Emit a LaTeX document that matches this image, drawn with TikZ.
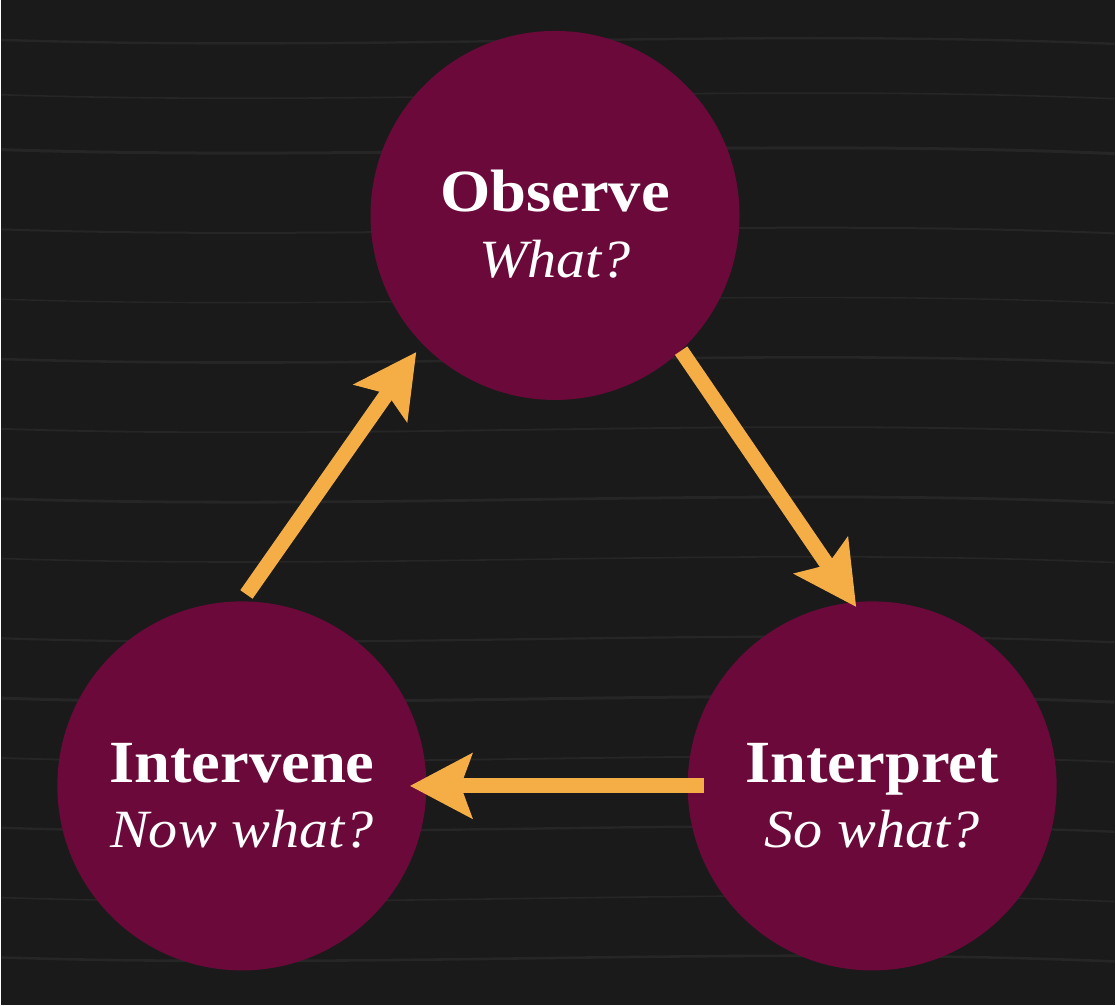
\documentclass[tikz,border=0pt]{standalone}
\usepackage{fontspec}
\setmainfont[FakeStretch=1.08]{Liberation Serif}
\usepackage{tikz}
\usetikzlibrary{positioning,arrows.meta}

\definecolor{woodbg}{RGB}{26,26,26}
\definecolor{woodgrain}{RGB}{38,38,38}
\definecolor{maroon}{RGB}{107,10,58}
\definecolor{amber}{RGB}{245,174,69}

\newcommand{\stagehead}[1]{{\bfseries\fontsize{30}{33}\selectfont\rule{0pt}{29.5pt}#1}}

\begin{document}
\begin{tikzpicture}[
    x=0.5pt, y=-0.5pt,
    every node/.style={align=center},
    stage/.style={circle, fill=maroon, minimum size=185pt, inner sep=0pt, text=white,
        font=\fontsize{27}{33}\selectfont},
    arrow/.style={draw=amber, line width=7.5pt,
        -{Stealth[length=31pt, width=32pt, inset=5.5pt]}}
]
% Background board
\fill[woodbg] (0,0) rectangle (1116,1008);
\foreach \y/\w in {40/1.2,95/0.8,150/1.5,230/1,300/0.7,360/1.3,430/0.9,500/1.4,560/0.8,640/1.1,700/1.5,760/0.9,830/1.2,900/0.8,960/1.3}
    \draw[woodgrain, line width=\w pt] (0,\y) .. controls (370,\y+12) and (740,\y-12) .. (1116,\y+4);

% The three stages
\node[stage] (obs) at (555,216) {\stagehead{Observe}\\ \itshape What?};
\node[stage] (interp) at (873,788) {\stagehead{Interpret}\\ \itshape So what?};
\node[stage] (interv) at (241,788) {\stagehead{Intervene}\\ \itshape Now what?};

% Cycle
\draw[arrow, shorten >=-3pt] (obs.-47) -- (interp.96);
\draw[arrow, shorten <=-8.5pt, shorten >=-8.5pt] (interp.west) -- (interv.east);
\draw[arrow, shorten <=4pt, shorten >=5pt] (interv.90) -- (obs.224);
\end{tikzpicture}
\end{document}
